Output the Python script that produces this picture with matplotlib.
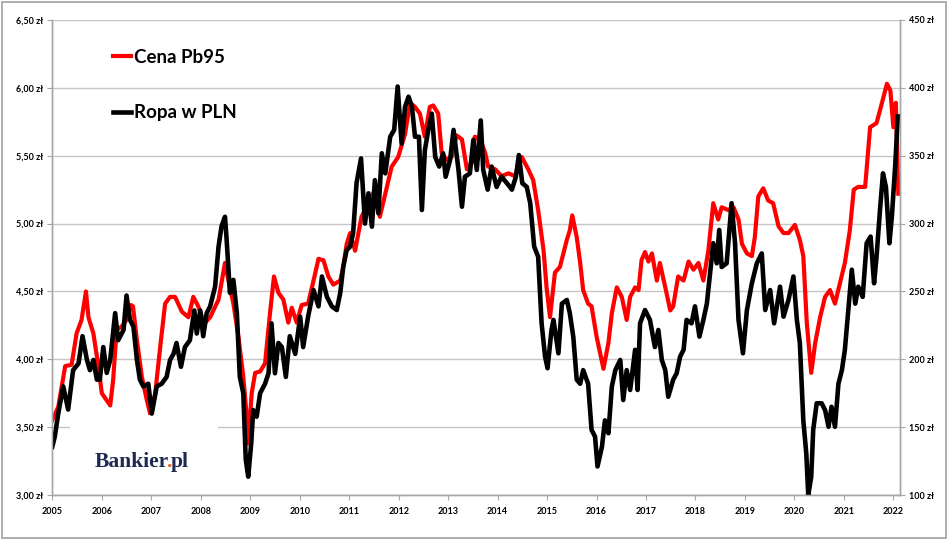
import matplotlib
matplotlib.use("Agg")
import matplotlib.pyplot as plt
from matplotlib.patches import Rectangle
import numpy as np

# Pb95 price (zl per litre)
pb95_t = [2005.00, 2005.12, 2005.26, 2005.39, 2005.49, 2005.59, 2005.68, 2005.73, 2005.83, 2005.93,
          2006.00, 2006.17, 2006.23, 2006.30, 2006.40, 2006.50, 2006.59, 2006.63, 2006.71, 2006.81,
          2006.91, 2006.99, 2007.08, 2007.18, 2007.28, 2007.38, 2007.48, 2007.62, 2007.75, 2007.85,
          2007.95, 2008.05, 2008.09, 2008.19, 2008.36, 2008.49, 2008.56, 2008.66, 2008.76, 2008.86,
          2008.93, 2008.96, 2009.03, 2009.10, 2009.20, 2009.30, 2009.40, 2009.48, 2009.57, 2009.67,
          2009.77, 2009.84, 2009.94, 2010.04, 2010.17, 2010.28, 2010.38, 2010.48, 2010.58, 2010.68,
          2010.82, 2010.88, 2010.95, 2011.02, 2011.12, 2011.25, 2011.39, 2011.52, 2011.62, 2011.73,
          2011.86, 2011.99, 2012.13, 2012.23, 2012.33, 2012.43, 2012.53, 2012.63, 2012.70, 2012.80,
          2012.87, 2012.97, 2013.07, 2013.17, 2013.28, 2013.38, 2013.48, 2013.54, 2013.65, 2013.75,
          2013.81, 2013.95, 2014.08, 2014.22, 2014.35, 2014.49, 2014.62, 2014.72, 2014.82, 2014.93,
          2014.99, 2015.06, 2015.16, 2015.26, 2015.33, 2015.40, 2015.46, 2015.51, 2015.60, 2015.67,
          2015.73, 2015.83, 2015.90, 2016.00, 2016.14, 2016.24, 2016.31, 2016.41, 2016.51, 2016.61,
          2016.68, 2016.78, 2016.85, 2016.91, 2016.98, 2017.05, 2017.12, 2017.22, 2017.28, 2017.39,
          2017.49, 2017.55, 2017.65, 2017.76, 2017.86, 2017.96, 2018.06, 2018.16, 2018.26, 2018.36,
          2018.46, 2018.53, 2018.66, 2018.77, 2018.87, 2018.94, 2019.04, 2019.14, 2019.20, 2019.27,
          2019.37, 2019.47, 2019.57, 2019.68, 2019.78, 2019.88, 2020.01, 2020.11, 2020.18, 2020.25,
          2020.34, 2020.42, 2020.52, 2020.62, 2020.72, 2020.82, 2020.92, 2021.02, 2021.12, 2021.20,
          2021.29, 2021.43, 2021.53, 2021.66, 2021.77, 2021.87, 2021.94, 2022.00, 2022.05, 2022.10]
pb95 = [3.55, 3.65, 3.95, 3.96, 4.19, 4.29, 4.50, 4.31, 4.19, 3.95,
        3.75, 3.66, 3.85, 4.22, 4.24, 4.29, 4.40, 4.39, 4.14, 3.87,
        3.70, 3.58, 3.75, 4.09, 4.41, 4.46, 4.46, 4.35, 4.31, 4.46,
        4.39, 4.29, 4.27, 4.31, 4.44, 4.71, 4.58, 4.41, 4.17, 3.87,
        3.58, 3.38, 3.75, 3.90, 3.91, 3.97, 4.34, 4.61, 4.49, 4.44,
        4.27, 4.38, 4.27, 4.40, 4.41, 4.58, 4.74, 4.73, 4.61, 4.55,
        4.58, 4.68, 4.85, 4.93, 4.80, 5.05, 5.15, 5.25, 5.05, 5.22,
        5.42, 5.49, 5.66, 5.89, 5.86, 5.81, 5.64, 5.86, 5.87, 5.81,
        5.52, 5.47, 5.49, 5.65, 5.62, 5.40, 5.45, 5.64, 5.62, 5.52,
        5.42, 5.40, 5.35, 5.37, 5.35, 5.49, 5.40, 5.32, 5.10, 4.80,
        4.53, 4.31, 4.64, 4.68, 4.78, 4.88, 4.95, 5.06, 4.90, 4.71,
        4.51, 4.41, 4.39, 4.17, 3.93, 4.12, 4.34, 4.53, 4.46, 4.29,
        4.46, 4.53, 4.51, 4.73, 4.79, 4.72, 4.78, 4.58, 4.71, 4.53,
        4.36, 4.39, 4.61, 4.58, 4.72, 4.66, 4.71, 4.58, 4.80, 5.15,
        5.03, 5.12, 5.10, 5.12, 5.03, 4.85, 4.78, 4.76, 4.90, 5.20,
        5.26, 5.17, 5.15, 4.98, 4.93, 4.93, 4.99, 4.88, 4.76, 4.27,
        3.90, 4.12, 4.31, 4.46, 4.51, 4.41, 4.56, 4.71, 4.95, 5.25,
        5.27, 5.27, 5.71, 5.74, 5.89, 6.03, 5.98, 5.71, 5.89, 5.22]

# crude oil in PLN
oil_t = [2005.00, 2005.05, 2005.12, 2005.22, 2005.32, 2005.42, 2005.53, 2005.61, 2005.70, 2005.76,
         2005.83, 2005.90, 2005.96, 2006.03, 2006.10, 2006.17, 2006.27, 2006.33, 2006.44, 2006.50,
         2006.57, 2006.64, 2006.71, 2006.77, 2006.84, 2006.94, 2007.01, 2007.11, 2007.21, 2007.31,
         2007.38, 2007.45, 2007.51, 2007.60, 2007.68, 2007.78, 2007.87, 2007.92, 2007.99, 2008.05,
         2008.12, 2008.19, 2008.29, 2008.36, 2008.42, 2008.49, 2008.52, 2008.59, 2008.66, 2008.73,
         2008.79, 2008.86, 2008.91, 2008.96, 2009.02, 2009.06, 2009.13, 2009.20, 2009.30, 2009.37,
         2009.43, 2009.50, 2009.57, 2009.64, 2009.72, 2009.80, 2009.91, 2010.01, 2010.07, 2010.17,
         2010.28, 2010.38, 2010.45, 2010.55, 2010.65, 2010.75, 2010.82, 2010.88, 2010.95, 2011.02,
         2011.08, 2011.15, 2011.24, 2011.32, 2011.39, 2011.46, 2011.52, 2011.59, 2011.66, 2011.73,
         2011.83, 2011.91, 2011.98, 2012.06, 2012.13, 2012.20, 2012.27, 2012.33, 2012.41, 2012.47,
         2012.53, 2012.60, 2012.67, 2012.74, 2012.82, 2012.90, 2012.95, 2013.04, 2013.11, 2013.21,
         2013.28, 2013.34, 2013.44, 2013.51, 2013.58, 2013.66, 2013.71, 2013.80, 2013.88, 2013.98,
         2014.08, 2014.19, 2014.29, 2014.37, 2014.43, 2014.50, 2014.59, 2014.66, 2014.74, 2014.82,
         2014.89, 2014.96, 2015.01, 2015.09, 2015.13, 2015.23, 2015.30, 2015.40, 2015.46, 2015.53,
         2015.60, 2015.67, 2015.73, 2015.83, 2015.90, 2015.97, 2016.02, 2016.11, 2016.17, 2016.24,
         2016.31, 2016.38, 2016.48, 2016.54, 2016.61, 2016.68, 2016.78, 2016.83, 2016.88, 2016.98,
         2017.08, 2017.18, 2017.25, 2017.32, 2017.39, 2017.45, 2017.55, 2017.62, 2017.69, 2017.76,
         2017.82, 2017.92, 2017.99, 2018.08, 2018.16, 2018.23, 2018.36, 2018.43, 2018.48, 2018.53,
         2018.63, 2018.73, 2018.80, 2018.87, 2018.96, 2019.04, 2019.14, 2019.24, 2019.34, 2019.41,
         2019.51, 2019.59, 2019.71, 2019.78, 2019.88, 2019.98, 2020.05, 2020.11, 2020.18, 2020.24,
         2020.28, 2020.34, 2020.38, 2020.45, 2020.55, 2020.62, 2020.69, 2020.75, 2020.82, 2020.89,
         2020.96, 2021.02, 2021.09, 2021.16, 2021.23, 2021.29, 2021.38, 2021.46, 2021.54, 2021.61,
         2021.66, 2021.73, 2021.79, 2021.85, 2021.92, 2021.97, 2022.04, 2022.09]
oil = [135.6, 143, 160, 180, 163, 192, 197, 217, 199.5, 192,
       199.5, 185, 185, 209, 190, 199.5, 234, 214, 221.6, 247,
       229, 224, 199.5, 185, 180, 182, 160, 180, 182, 187,
       199.5, 204, 212, 194.5, 209, 214, 236, 219, 236, 217,
       234, 239, 253.5, 283, 298, 305, 290, 249, 258.5, 234,
       187, 175, 126, 113.5, 138, 162.6, 157.7, 175, 182, 189.7,
       226.5, 189.7, 212, 209, 187, 217, 204, 231.4, 209, 231.4,
       251, 239, 261, 246, 239, 236.3, 249, 268, 280.5, 283,
       293, 330, 348, 300, 322.3, 297.7, 332, 307.6, 351.8, 337,
       364, 369, 401, 359, 386, 393.5, 386, 364, 364, 310,
       354, 369, 381, 349, 342, 351.8, 334.5, 346.8, 369, 339.5,
       312.4, 334.5, 337, 361.6, 339.5, 376, 339.5, 325, 342, 327,
       334.5, 329.7, 325, 334.5, 350.5, 329.7, 327, 315, 283, 275.6,
       226.5, 202, 193.4, 221.6, 229, 204.4, 241, 243.7, 234, 216.7,
       185, 182, 192, 182, 148, 143, 121, 135.6, 155, 145.5,
       180, 192, 199.5, 170, 192, 177.4, 207, 177.4, 226.5, 236.3,
       229, 209, 221.6, 199.5, 192, 172.4, 185, 189.7, 202, 207,
       229, 226.5, 239, 216.7, 229, 241, 285.5, 270.7, 295.3, 268,
       270.7, 315, 285.5, 229, 204.4, 236.3, 256, 270.7, 278, 236.3,
       251, 226.5, 253.5, 231.4, 243.7, 261, 229, 212, 155, 130.7,
       100, 113.5, 148, 167.6, 167.6, 162.6, 150.3, 165, 150.3, 182,
       192, 207, 236.3, 266, 241, 253.5, 246, 285.5, 290.4, 256,
       275.6, 310, 337, 327, 285.5, 305, 344.4, 379]

years = list(range(2005, 2023))
left_ticks = [3.0, 3.5, 4.0, 4.5, 5.0, 5.5, 6.0, 6.5]
right_ticks = [100, 150, 200, 250, 300, 350, 400, 450]

grid_col = '#c6c6c6'
spine_col = '#a6a6a6'
tick_font = {'family': 'Lato', 'weight': 'bold', 'size': 6.5}
logo_font = {'family': 'Liberation Serif', 'weight': 'bold', 'size': 15.5}

fig = plt.figure(figsize=(9.48, 5.4), dpi=100)
fig.patches.append(Rectangle((0.002, 0.003), 0.996, 0.994, transform=fig.transFigure,
                             fill=False, edgecolor='#a0a0a0', linewidth=1.2))

ax = fig.add_axes([0.0552, 0.0833, 0.8942, 0.8797])
ax2 = ax.twinx()

ax.plot(pb95_t, pb95, color='#ff0000', linewidth=3.0, solid_joinstyle='round', label='Cena Pb95')
ax2.plot(oil_t, oil, color='black', linewidth=3.3, solid_joinstyle='round', label='Ropa w PLN')

ax.set_xlim(2005.0, 2022.135)
ax.set_ylim(3.0, 6.5)
ax2.set_ylim(100, 450)

ax.set_yticks(left_ticks)
ax.set_yticklabels([('%.2f zł' % v).replace('.', ',') for v in left_ticks], fontdict=tick_font)
ax2.set_yticks(right_ticks)
ax2.set_yticklabels(['%d zł' % v for v in right_ticks], fontdict=tick_font)
ax.set_xticks(years)
ax.set_xticklabels([str(y) for y in years], fontdict=tick_font)

ax.yaxis.grid(True, color=grid_col, linewidth=1.0)
ax.set_axisbelow(True)

for a in (ax, ax2):
    a.spines['top'].set_visible(False)
    for s in ('left', 'right', 'bottom'):
        a.spines[s].set_color(spine_col)
        a.spines[s].set_linewidth(1.0)
    a.tick_params(direction='out', length=3.5, width=0.8, color=spine_col, pad=3)
ax.tick_params(axis='x', pad=5)

# legend
h1, l1 = ax.get_legend_handles_labels()
h2, l2 = ax2.get_legend_handles_labels()
leg = ax2.legend(h1 + h2, l1 + l2, loc='upper left', bbox_to_anchor=(0.052, 0.975),
                 frameon=False, handlelength=0.95, handletextpad=0.15, labelspacing=2.05,
                 prop={'family': 'Lato', 'weight': 'bold', 'size': 13.5})

# Bankier.pl logo on a white patch (hides the gridline behind it)
ax2.add_patch(Rectangle((0.021, 0.032), 0.175, 0.136, transform=ax.transAxes,
                        facecolor='white', edgecolor='none', zorder=1))
t1 = ax2.text(0.05, 0.058, 'Bankier', transform=ax.transAxes, color='#1b2a4e',
              va='baseline', zorder=3, **logo_font)
t2 = ax2.annotate('.', xy=(1, 0), xycoords=t1, xytext=(-2, 0), textcoords='offset pixels',
                  color='#e8601c', va='bottom', zorder=3, **logo_font)
ax2.annotate('pl', xy=(1, 0), xycoords=t2, xytext=(-2, 0), textcoords='offset pixels',
             color='#1b2a4e', va='bottom', zorder=3, **logo_font)

fig.savefig('out.png', dpi=100)
